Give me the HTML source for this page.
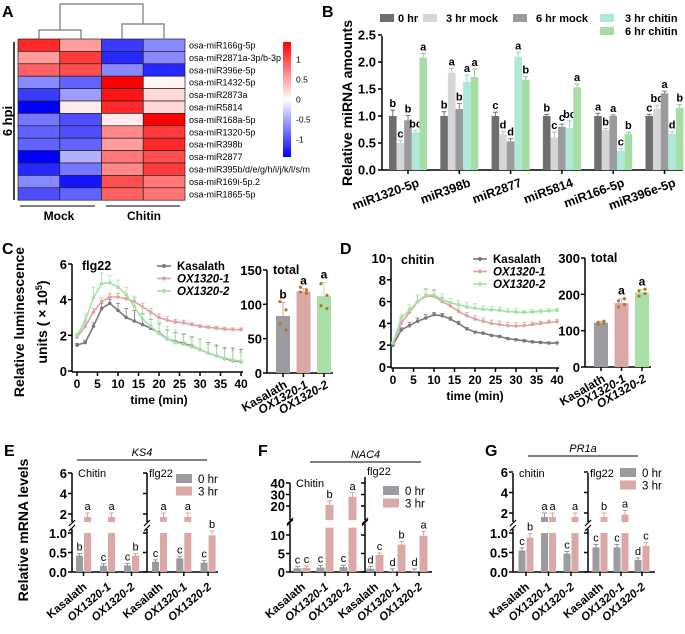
<!DOCTYPE html>
<html><head><meta charset="utf-8"><style>
html,body{margin:0;padding:0;background:#fff;}
svg{display:block;font-family:"Liberation Sans",Arial,sans-serif;}
</style></head><body>
<svg id="fig" width="685" height="634" viewBox="0 0 685 634" xmlns="http://www.w3.org/2000/svg"></svg>
<script>
// ---------- Panel A data ----------
const heatRows = ["osa-miR166g-5p","osa-miR2871a-3p/b-3p","osa-miR396e-5p","osa-miR1432-5p","osa-miR2873a","osa-miR5814","osa-miR168a-5p","osa-miR1320-5p","osa-miR398b","osa-miR2877","osa-miR395b/d/e/g/h/i/j/k/l/s/m","osa-miR169i-5p.2","osa-miR1865-5p"];
const heatMock1 = [1.1,0.5,0.8,-0.6,-1.0,-1.3,-0.7,-0.8,-0.8,-1.3,-1.1,-0.6,-0.9];
const heatMock2 = [0.5,1.0,0.9,-0.8,-0.5,0.1,-0.9,-0.9,-0.8,-0.4,-0.7,-1.2,-0.8];
const heatChitin1 = [-1.0,-1.1,-0.6,1.3,1.2,1.1,0.1,0.6,0.5,0.7,0.6,0.9,0.8];
const heatChitin2 = [-0.6,-0.6,-1.1,0.05,0.2,0.2,1.3,1.0,1.1,0.9,1.0,0.7,0.7];
const cbTicks = [1,0.5,0,-0.5,-1];
// ---------- Panel B data ----------
const bGroups = ["miR1320-5p","miR398b","miR2877","miR5814","miR166-5p","miR396e-5p"];
const bSeriesNames = ["0 hr","3 hr mock","6 hr mock","3 hr chitin","6 hr chitin"];
const b0hr = [1.0,1.0,1.0,1.0,1.0,1.0];
const b3mock = [0.5,1.8,0.66,0.6,0.74,1.13];
const b6mock = [0.92,1.13,0.53,0.8,1.0,1.42];
const b3chitin = [0.7,1.63,2.1,0.78,0.35,0.67];
const b6chitin = [2.08,1.72,1.67,1.53,0.67,1.15];
const bErr0 = [0.11,0.08,0.07,0.03,0.05,0.03];
const bErr3m = [0.05,0.08,0.05,0.1,0.03,0.07];
const bErr6m = [0.09,0.1,0.05,0.05,0.02,0.04];
const bErr3c = [0.03,0.13,0.08,0.13,0.05,0.04];
const bErr6c = [0.08,0.15,0.06,0.06,0.03,0.06];
const bLet0 = ["b","b","c","b","a","c"];
const bLet3m = ["c","a","d","c","b","bc"];
const bLet6m = ["b","b","d","c","a","a"];
const bLet3c = ["bc","a","a","bc","c","d"];
const bLet6c = ["a","a","b","a","b","b"];
const bTicks = [0,0.5,1.0,1.5,2.0,2.5];
// ---------- Panel C data ----------
const timePts = [0,2,4,6,8,10,12,14,16,18,20,22,24,26,28,30,32,34,36,38,40];
const timeTicks = [0,5,10,15,20,25,30,35,40];
const cKas = [1.45,1.6,2.5,3.5,3.8,3.4,3.0,2.8,2.6,2.4,2.15,1.8,1.65,1.55,1.4,1.2,1.0,0.85,0.7,0.58,0.52];
const cOx1 = [1.9,2.5,3.3,3.9,4.15,4.15,4.05,3.9,3.6,3.3,3.0,2.85,2.75,2.7,2.6,2.5,2.45,2.4,2.35,2.32,2.32];
const cOx2 = [2.0,2.8,4.1,4.9,4.95,4.7,4.3,3.6,2.9,2.5,2.1,1.8,1.6,1.5,1.35,1.2,1.0,0.85,0.72,0.62,0.55];
const cKasErr = [0.1,0.1,0.2,0.3,0.2,0.4,0.5,0.6,0.6,0.5,0.5,0.5,0.5,0.5,0.5,0.6,0.6,0.6,0.6,0.7,0.7];
const cOx1Err = [0.1,0.2,0.2,0.2,0.2,0.2,0.2,0.2,0.2,0.2,0.2,0.2,0.15,0.15,0.1,0.1,0.1,0.1,0.1,0.1,0.1];
const cOx2Err = [0.1,0.4,0.6,0.6,0.4,0.4,0.4,0.6,0.7,0.7,0.7,0.7,0.7,0.6,0.6,0.6,0.5,0.5,0.5,0.5,0.5];
const cYTicks = [0,2,4,6];
const cTotal = [83,119,112];
const cTotalErr = [20,4,20];
const cTotalDots = [[104,92,72,63],[125,121,118,116],[130,113,98,94]];
const cTotalLet = ["b","a","a"];
const cTotalTicks = [0,50,100,150];
const lines = ["Kasalath","OX1320-1","OX1320-2"];
// ---------- Panel D data ----------
const dKas = [2.0,3.4,3.8,4.2,4.5,4.8,4.7,4.4,4.0,3.5,3.2,3.1,2.9,2.8,2.6,2.5,2.4,2.3,2.25,2.2,2.2];
const dOx1 = [2.2,4.0,5.0,6.0,6.5,6.5,6.0,5.6,5.1,4.7,4.4,4.2,4.0,3.9,3.8,3.75,3.8,3.9,4.0,4.1,4.15];
const dOx2 = [2.2,4.5,5.2,6.0,6.6,6.6,6.2,5.9,5.7,5.5,5.4,5.3,5.25,5.2,5.1,5.05,5.0,5.05,5.1,5.15,5.2];
const dKasErr = [0.1,0.2,0.3,0.3,0.3,0.2,0.2,0.2,0.2,0.1,0.1,0.1,0.1,0.1,0.1,0.1,0.1,0.1,0.1,0.1,0.1];
const dOx1Err = [0.1,0.3,0.4,0.6,0.6,0.5,0.4,0.3,0.3,0.3,0.3,0.3,0.3,0.3,0.3,0.3,0.3,0.2,0.2,0.2,0.2];
const dOx2Err = [0.1,0.3,0.5,0.6,0.6,0.5,0.5,0.4,0.4,0.4,0.4,0.3,0.3,0.3,0.3,0.3,0.2,0.2,0.2,0.2,0.2];
const dYTicks = [0,2,4,6,8,10];
const dTotal = [122,176,205];
const dTotalErr = [4,12,8];
const dTotalDots = [[118,121,123,126],[165,172,182,188],[195,202,210,214]];
const dTotalLet = ["","a","a"];
const dTotalTicks = [0,100,200,300];
// ---------- Panels E/F/G data ----------
const eChitin0 = [0.42,0.16,0.17], eChitin3 = [1.28,1.22,0.42], eFlg0 = [0.26,0.35,0.24], eFlg3 = [1.25,1.32,0.94];
const eChitin0Let = ["b","c","c"], eChitin3Let = ["a","a","b"], eFlg0Let = ["c","c","c"], eFlg3Let = ["a","a","b"];
const fChitin0 = [1.0,1.2,1.3], fChitin3 = [1.1,21,28], fFlg0 = [0.9,0.3,0.3], fFlg3 = [4.6,7.4,9.8];
const fChitin0Let = ["c","c","c"], fChitin3Let = ["c","b","a"], fFlg0Let = ["d","d","d"], fFlg3Let = ["c","b","a"];
const gChitin0 = [0.55,1.55,0.47], gChitin3 = [0.88,1.22,1.45], gFlg0 = [0.63,0.63,0.31], gFlg3 = [1.2,1.85,0.67];
const gChitin0Let = ["c","a","c"], gChitin3Let = ["b","a","a"], gFlg0Let = ["c","c","d"], gFlg3Let = ["b","a","c"];
const eLowTicks = [0,0.5,1.0], eHighTicks = [2,4,6];
const fLowTicks = [0,5,10], fHighTicks = [20,30,40];

const NS = "http://www.w3.org/2000/svg";
const svg = document.getElementById("fig");
function mk(tag, attrs, name, parent) {
  const el = document.createElementNS(NS, tag);
  for (const k in attrs) el.setAttribute(k, attrs[k]);
  
  
  (parent || svg).appendChild(el);
  return el;
}
function txt(x, y, s, attrs, name) {
  const a = Object.assign({x: x, y: y, fill: "#000"}, attrs || {});
  const t = mk("text", a, name);
  t.textContent = s;
  return t;
}
function line(x1, y1, x2, y2, w, c, name) {
  return mk("line", {x1: x1, y1: y1, x2: x2, y2: y2, stroke: c || "#000", "stroke-width": w || 1}, name);
}

// ================= Panel A =================
txt(2, 17, "A", {"font-size": 16, "font-weight": "bold"}, "panel-label-a");
const hx0 = 18, cw = 41.75, hy0 = 39, rh = 12.4;
function heatColor(v) {
  const t = Math.max(-1, Math.min(1, v / 1.3));
  if (t >= 0) { const g = Math.round(255 * (1 - t)); return `rgb(255,${g},${g})`; }
  const g = Math.round(255 * (1 + t)); return `rgb(${g},${g},255)`;
}
const heatCols = [heatMock1, heatMock2, heatChitin1, heatChitin2];
heatCols.forEach((col, c) => {
  col.forEach((v, r) => {
    mk("rect", {x: hx0 + c * cw, y: hy0 + r * rh, width: cw, height: rh, fill: heatColor(v), stroke: "#222", "stroke-width": 0.7}, "heatmap-cell");
  });
});
heatRows.forEach((n, r) => txt(hx0 + 4 * cw + 4, hy0 + r * rh + rh / 2 + 3.3, n, {"font-size": 9}, "row-label"));
mk("path", {d: `M39 39 V30 H81 V39 M122 39 V24 H164 V39 M60 30 V4 H143 V24`, fill: "none", stroke: "#777", "stroke-width": 1.2}, "dendrogram");
const cbG = mk("defs", {}, "defs");
const grad = mk("linearGradient", {id: "cbgrad", x1: 0, y1: 0, x2: 0, y2: 1}, "colorbar-gradient", cbG);
[["0%", "#ff0000"], ["50%", "#ffffff"], ["100%", "#0000ff"]].forEach(s => mk("stop", {offset: s[0], "stop-color": s[1]}, "gradient-stop", grad));
mk("rect", {x: 283, y: 42, width: 8, height: 115, fill: "url(#cbgrad)"}, "colorbar");
cbTicks.forEach(v => txt(296, 99.5 - v * 40 + 3, String(v), {"font-size": 8.5}, "colorbar-tick"));
line(14, 42, 14, 200, 1.5, "#000", "hpi-bracket");
txt(12, 121, "6 hpi", {"font-size": 13, "font-weight": "bold", transform: "rotate(-90 12 121)", "text-anchor": "middle"}, "hpi-label");
line(20, 206, 95, 206, 1, "#000", "mock-bracket");
line(106, 206, 180, 206, 1, "#000", "chitin-bracket");
txt(59, 220, "Mock", {"font-size": 12, "font-weight": "bold", "text-anchor": "middle"}, "mock-label");
txt(144, 220, "Chitin", {"font-size": 12, "font-weight": "bold", "text-anchor": "middle"}, "chitin-label");

// ================= Panel B =================
txt(322, 17, "B", {"font-size": 16, "font-weight": "bold"}, "panel-label-b");
const bY = v => 170 - 54 * v;
const bColors = ["#6e6e6e", "#d6d6d6", "#9a9a9f", "#aee8d8", "#a6dca6"];
const bErrColors = ["#6e6e6e", "#bdbdbd", "#808086", "#8ed8c4", "#8ccc8c"];
const bSeries = [b0hr, b3mock, b6mock, b3chitin, b6chitin];
const bErrs = [bErr0, bErr3m, bErr6m, bErr3c, bErr6c];
const bLets = [bLet0, bLet3m, bLet6m, bLet3c, bLet6c];
line(382, 36, 382, 170, 1.5, "#000", "b-y-axis");
line(382, 170, 683, 170, 1.5, "#000", "b-x-axis");
bTicks.forEach(v => {
  line(378, bY(v), 382, bY(v), 1.5, "#000", "b-y-tick");
  txt(376, bY(v) + 4.5, v.toFixed(1), {"font-size": 13, "font-weight": "bold", "text-anchor": "end"}, "b-y-tick-label");
});
txt(352, 103, "Relative miRNA amounts", {"font-size": 14, "font-weight": "bold", "text-anchor": "middle", transform: "rotate(-90 352 103)"}, "b-y-axis-title");
const bw = 7.6;
bGroups.forEach((g, i) => {
  const gx = 389 + i * 51.3;
  bSeries.forEach((s, k) => {
    const x = gx + k * bw, v = s[i];
    mk("rect", {x: x, y: bY(v), width: bw, height: bY(0) - bY(v), fill: bColors[k]}, "b-bar");
    const ex = x + bw / 2, top = bY(v + bErrs[k][i]);
    line(ex, bY(v), ex, top, 1, bErrColors[k], "b-error-bar");
    line(ex - 2.5, top, ex + 2.5, top, 1, bErrColors[k], "b-error-cap");
    txt(ex, top - 3, bLets[k][i], {"font-size": 11, "font-weight": "bold", "text-anchor": "middle"}, "b-significance-letter");
  });
  const cx = gx + 19;
  line(cx, 170, cx, 174, 1.5, "#000", "b-x-tick");
  txt(cx + 12, 186, g, {"font-size": 12.5, "font-weight": "bold", "text-anchor": "end", transform: `rotate(-20 ${cx + 12} 186)`}, "b-x-tick-label");
});
const legPos = [[380, 19], [423, 19], [513, 19], [600, 19], [600, 32]];
bSeriesNames.forEach((n, k) => {
  mk("rect", {x: legPos[k][0], y: legPos[k][1] - 5, width: 14, height: 8, fill: bColors[k]}, "b-legend-swatch");
  txt(legPos[k][0] + (k === 0 ? 18 : (k >= 3 ? 25 : 23)), legPos[k][1] + 3, n, {"font-size": 11, "font-weight": "bold"}, "b-legend-label");
});

// ================= Line charts C & D =================
const lineColors = ["#7a7a7a", "#dea3a3", "#a3e3a3"];
const barColors = ["#9b9ba0", "#dba8a8", "#a8e0a8"];
function lineChart(cfg) {
  const X = t => cfg.x0 + (t / 40) * (cfg.x1 - cfg.x0);
  const Y = v => cfg.y0 - (v / cfg.ymax) * (cfg.y0 - cfg.ytop);
  line(cfg.ax, cfg.ytop, cfg.ax, cfg.y0 + 1, 1.5, "#000", "line-y-axis");
  line(cfg.ax, cfg.y0 + 1, cfg.x1 + 2, cfg.y0 + 1, 1.5, "#000", "line-x-axis");
  cfg.yticks.forEach(v => {
    line(cfg.ax - 4, Y(v), cfg.ax, Y(v), 1.5, "#000", "line-y-tick");
    txt(cfg.ax - 5, Y(v) + 5, String(v), {"font-size": 13, "font-weight": "bold", "text-anchor": "end"}, "line-y-tick-label");
  });
  timeTicks.forEach(t => {
    line(X(t), cfg.y0 + 1, X(t), cfg.y0 + 5, 1.5, "#000", "line-x-tick");
    txt(X(t), cfg.y0 + 17, String(t), {"font-size": 12, "font-weight": "bold", "text-anchor": "middle"}, "line-x-tick-label");
  });
  txt((cfg.x0 + cfg.x1) / 2, cfg.y0 + 33, "time (min)", {"font-size": 12, "font-weight": "bold", "text-anchor": "middle"}, "line-x-axis-title");
  txt(cfg.ax + 10, cfg.ytop + 6, cfg.title, {"font-size": 12.5, "font-weight": "bold"}, "line-chart-title");
  cfg.series.forEach((s, k) => {
    const col = lineColors[k];
    const pts = timePts.map((t, i) => `${X(t)},${Y(s[i])}`).join(" ");
    mk("polyline", {points: pts, fill: "none", stroke: col, "stroke-width": 1.6}, "line-series");
    timePts.forEach((t, i) => {
      const yt = Y(s[i] + cfg.errs[k][i]);
      line(X(t), Y(s[i]), X(t), yt, 0.8, col, "line-error-bar");
      line(X(t) - 2, yt, X(t) + 2, yt, 0.8, col, "line-error-cap");
      mk("circle", {cx: X(t), cy: Y(s[i]), r: 1.8, fill: col}, "line-point");
    });
  });
  lines.forEach((n, k) => {
    const ly = cfg.legY + k * 12.5;
    line(cfg.legX, ly, cfg.legX + 14, ly, 1.6, lineColors[k], "legend-line");
    mk("circle", {cx: cfg.legX + 7, cy: ly, r: 2, fill: lineColors[k]}, "legend-marker");
    txt(cfg.legX + 20, ly + 4, n, {"font-size": 11.5, "font-weight": "bold", "font-style": k ? "italic" : "normal"}, "legend-label");
  });
}
function totalChart(cfg) {
  const Y = v => cfg.y0 - (v / cfg.ymax) * (cfg.y0 - cfg.ytop);
  line(cfg.ax, cfg.ytop, cfg.ax, cfg.y0, 1.5, "#000", "total-y-axis");
  line(cfg.ax, cfg.y0, cfg.ax + 66, cfg.y0, 1.5, "#000", "total-x-axis");
  cfg.ticks.forEach(v => {
    line(cfg.ax - 4, Y(v), cfg.ax, Y(v), 1.5, "#000", "total-y-tick");
    txt(cfg.ax - 5, Y(v) + 5, String(v), {"font-size": 13, "font-weight": "bold", "text-anchor": "end"}, "total-y-tick-label");
  });
  txt(cfg.ax + 6, cfg.ytop + 4, "total", {"font-size": 12.5, "font-weight": "bold"}, "total-title");
  cfg.vals.forEach((v, i) => {
    const cx = cfg.ax + 16 + i * 20.5;
    mk("rect", {x: cx - 7, y: Y(v), width: 14, height: cfg.y0 - Y(v), fill: barColors[i]}, "total-bar");
    const top = Y(v + cfg.errs[i]);
    line(cx, Y(v), cx, top, 0.8, barColors[i], "total-error-bar");
    line(cx - 3, top, cx + 3, top, 0.8, barColors[i], "total-error-cap");
    cfg.dots[i].forEach((d, j) => mk("circle", {cx: cx + (j % 2 ? 3 : -3), cy: Y(d), r: 1.6, fill: "#b5742c"}, "total-dot"));
    if (cfg.lets[i]) txt(cx, top - 4, cfg.lets[i], {"font-size": 12, "font-weight": "bold", "text-anchor": "middle"}, "total-letter");
    line(cx, cfg.y0, cx, cfg.y0 + 4, 1.5, "#000", "total-x-tick");
    txt(cx + 5, cfg.y0 + 14, lines[i], {"font-size": 12, "font-weight": "bold", "font-style": i ? "italic" : "normal", "text-anchor": "end", transform: `rotate(-30 ${cx + 5} ${cfg.y0 + 14})`}, "total-x-tick-label");
  });
}
txt(2, 254, "C", {"font-size": 16, "font-weight": "bold"}, "panel-label-c");
txt(24, 322, "Relative luminescence", {"font-size": 14, "font-weight": "bold", "text-anchor": "middle", transform: "rotate(-90 24 322)"}, "c-y-axis-title");
const uy = mk("text", {x: 47, y: 322, "font-size": 14, "font-weight": "bold", "text-anchor": "middle", transform: "rotate(-90 47 322)"}, "c-y-axis-units");
uy.innerHTML = 'units ( × 10<tspan dy="-5" font-size="9">5</tspan><tspan dy="5">)</tspan>';
lineChart({ax: 72, x0: 77, x1: 241, y0: 371, ytop: 264, ymax: 6, yticks: cYTicks, series: [cKas, cOx1, cOx2], errs: [cKasErr, cOx1Err, cOx2Err], title: "flg22", legX: 157, legY: 266});
totalChart({ax: 267, y0: 373, ytop: 270, ymax: 150, ticks: cTotalTicks, vals: cTotal, errs: cTotalErr, dots: cTotalDots, lets: cTotalLet});
txt(340, 254, "D", {"font-size": 16, "font-weight": "bold"}, "panel-label-d");
lineChart({ax: 391, x0: 393, x1: 557, y0: 367, ytop: 258, ymax: 10, yticks: dYTicks, series: [dKas, dOx1, dOx2], errs: [dKasErr, dOx1Err, dOx2Err], title: "chitin", legX: 473, legY: 259});
totalChart({ax: 585, y0: 367, ytop: 258, ymax: 300, ticks: dTotalTicks, vals: dTotal, errs: dTotalErr, dots: dTotalDots, lets: dTotalLet});

// ================= Broken-axis bar charts E/F/G =================
function brokenChart(cfg) {
  const low = v => cfg.y0 - v * cfg.lowK;
  const high = v => cfg.hiRef - (v - cfg.hiRefV) * cfg.hiK;
  const lowTopY = low(cfg.lowMax) - 4, hiBotY = cfg.hiBot;
  [cfg.ax1, cfg.ax2].forEach((ax, ai) => {
    const top = ai === 0 ? cfg.yTop : cfg.yTop2;
    line(ax, cfg.y0, ax, lowTopY, 1.5, "#000", "y-axis-lower");
    line(ax, hiBotY, ax, top, 1.5, "#000", "y-axis-upper");
    line(ax - 3, lowTopY + 2, ax + 3, lowTopY - 4, 1.2, "#000", "axis-break-mark");
    line(ax - 3, hiBotY + 4, ax + 3, hiBotY - 2, 1.2, "#000", "axis-break-mark");
    cfg.lowTicks.forEach(v => {
      line(ax - 4, low(v), ax, low(v), 1.5, "#000", "y-tick");
      if (ai === 0) txt(ax - 5, low(v) + 5, cfg.fmt(v), {"font-size": 13, "font-weight": "bold", "text-anchor": "end"}, "y-tick-label");
    });
    cfg.hiTicks.forEach(v => {
      line(ax - 4, high(v), ax, high(v), 1.5, "#000", "y-tick");
      if (ai === 0) txt(ax - 5, high(v) + 5, String(v), {"font-size": 13, "font-weight": "bold", "text-anchor": "end"}, "y-tick-label");
    });
  });
  line(cfg.ax1, cfg.y0, cfg.xEnd, cfg.y0, 1.5, "#000", "x-axis");
  txt(cfg.ax1 + 6, cfg.subY1, cfg.chitinCap ? "Chitin" : "chitin", {"font-size": 11}, "chitin-subtitle");
  txt(cfg.ax2 + 2, cfg.subY2, "flg22", {"font-size": 11}, "flg22-subtitle");
  line(cfg.geneX1, cfg.geneY, cfg.geneX2, cfg.geneY, 1, "#000", "gene-line");
  txt((cfg.geneX1 + cfg.geneX2) / 2, cfg.geneY - 4, cfg.gene, {"font-size": 11, "font-style": "italic", "text-anchor": "middle"}, "gene-label");
  const groups = [
    {ax: cfg.ax1, off: cfg.off1, p: cfg.p1, g: cfg.c0, r: cfg.c3, gl: cfg.c0L, rl: cfg.c3L},
    {ax: cfg.ax2, off: cfg.off2, p: cfg.p2, g: cfg.f0, r: cfg.f3, gl: cfg.f0L, rl: cfg.f3L}
  ];
  const colors = ["#9b9ba0", "#dba8a8"], ecol = ["#8a8a90", "#d99a9a"];
  groups.forEach(G => {
    [0, 1, 2].forEach(i => {
      const cx = G.ax + G.off + i * G.p;
      [[G.g, G.gl], [G.r, G.rl]].forEach((pair, k) => {
        const v = pair[0][i], x = cx + (k ? 0.5 : -cfg.bw - 0.5);
        const lv = Math.min(v, cfg.lowMax);
        mk("rect", {x: x, y: low(lv), width: cfg.bw, height: cfg.y0 - low(lv), fill: colors[k]}, "expr-bar");
        let topY;
        if (v > cfg.lowMax) {
          const hy = Math.min(high(v), hiBotY - 5);
          mk("rect", {x: x, y: hy, width: cfg.bw, height: hiBotY - hy, fill: colors[k]}, "expr-bar-upper");
          topY = hy - 4;
        } else {
          topY = low(v) - Math.max(2, v * cfg.lowK * 0.12);
        }
        line(x + cfg.bw / 2, topY + 4, x + cfg.bw / 2, topY, 0.9, ecol[k], "expr-error-bar");
        line(x + cfg.bw / 2 - 2.5, topY, x + cfg.bw / 2 + 2.5, topY, 0.9, ecol[k], "expr-error-cap");
        txt(x + cfg.bw / 2, topY - 3, pair[1][i], {"font-size": 11, "text-anchor": "middle"}, "expr-letter");
      });
      line(cx, cfg.y0, cx, cfg.y0 + 4, 1.5, "#000", "x-tick");
      txt(cx + 4, cfg.y0 + 16, lines[i], {"font-size": 11.5, "font-weight": "bold", "font-style": i ? "italic" : "normal", "text-anchor": "end", transform: `rotate(-40 ${cx + 4} ${cfg.y0 + 16})`}, "x-tick-label");
    });
  });
  ["0 hr", "3 hr"].forEach((n, k) => {
    mk("rect", {x: cfg.legX, y: cfg.legY + k * 12.5 - 5, width: 16, height: 9, fill: colors[k]}, "legend-swatch");
    txt(cfg.legX + 22, cfg.legY + k * 12.5 + 4, n, {"font-size": 11.5}, "legend-label");
  });
}
txt(4, 456, "E", {"font-size": 16, "font-weight": "bold"}, "panel-label-e");
txt(28, 530, "Relative mRNA levels", {"font-size": 14, "font-weight": "bold", "text-anchor": "middle", transform: "rotate(-90 28 530)"}, "e-y-axis-title");
brokenChart({ax1: 72, ax2: 147, xEnd: 218, y0: 572, lowK: 39, lowMax: 1.0, hiRef: 514, hiRefV: 2, hiK: 10.25, hiBot: 522, yTop: 473, yTop2: 473,
  lowTicks: eLowTicks, hiTicks: eHighTicks, fmt: v => v.toFixed(1), off1: 11.5, p1: 24, off2: 12.5, p2: 24.3, bw: 7,
  c0: eChitin0, c3: eChitin3, f0: eFlg0, f3: eFlg3, c0L: eChitin0Let, c3L: eChitin3Let, f0L: eFlg0Let, f3L: eFlg3Let,
  gene: "KS4", geneX1: 77, geneX2: 207, geneY: 460, legX: 176, legY: 479, chitinCap: true, subY1: 477, subY2: 477});
txt(258, 456, "F", {"font-size": 16, "font-weight": "bold"}, "panel-label-f");
brokenChart({ax1: 290, ax2: 365, xEnd: 432, y0: 572, lowK: 3.7, lowMax: 12, hiRef: 506, hiRefV: 20, hiK: 1.15, hiBot: 520, yTop: 483, yTop2: 477,
  lowTicks: fLowTicks, hiTicks: fHighTicks, fmt: v => String(v), off1: 12, p1: 23, off2: 10, p2: 22, bw: 8,
  c0: fChitin0, c3: fChitin3, f0: fFlg0, f3: fFlg3, c0L: fChitin0Let, c3L: fChitin3Let, f0L: fFlg0Let, f3L: fFlg3Let,
  gene: "NAC4", geneX1: 310, geneX2: 421, geneY: 462, legX: 383, legY: 491, chitinCap: true, subY1: 487, subY2: 475});
txt(485, 456, "G", {"font-size": 16, "font-weight": "bold"}, "panel-label-g");
brokenChart({ax1: 513, ax2: 588, xEnd: 655, y0: 572, lowK: 39, lowMax: 1.0, hiRef: 513, hiRefV: 2, hiK: 10.25, hiBot: 522, yTop: 473, yTop2: 473,
  lowTicks: eLowTicks, hiTicks: eHighTicks, fmt: v => v.toFixed(1), off1: 13, p1: 22.5, off2: 12, p2: 21, bw: 7,
  c0: gChitin0, c3: gChitin3, f0: gFlg0, f3: gFlg3, c0L: gChitin0Let, c3L: gChitin3Let, f0L: gFlg0Let, f3L: gFlg3Let,
  gene: "PR1a", geneX1: 528, geneX2: 638, geneY: 456, legX: 620, legY: 473, chitinCap: false, subY1: 477, subY2: 477});
</script>
</body></html>
